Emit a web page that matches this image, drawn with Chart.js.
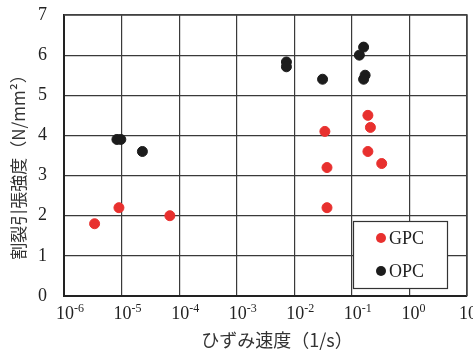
<!DOCTYPE html>
<html>
<head>
<meta charset="utf-8">
<script src="https://cdn.jsdelivr.net/npm/chart.js@4"></script>
<style>
  html, body { margin: 0; padding: 0; background: #fff; }
  #wrap { width: 473px; height: 354px; }
</style>
</head>
<body>
<div id="wrap"><canvas id="chart" width="473" height="354"></canvas></div>
<script>
// strain rate (1/s) and splitting tensile strength (N/mm2)
const gpcRate = [3.4e-6, 9e-6, 6.9e-5, 0.034, 0.037, 0.037, 0.19, 0.21, 0.19, 0.33];
const gpcStrength = [1.8, 2.2, 2.0, 4.1, 3.2, 2.2, 4.5, 4.2, 3.6, 3.3];
const opcRate = [8.3e-6, 9.7e-6, 2.3e-5, 0.0073, 0.0073, 0.031, 0.16, 0.135, 0.17, 0.16];
const opcStrength = [3.9, 3.9, 3.6, 5.83, 5.71, 5.4, 6.2, 6.0, 5.5, 5.4];
const xTicks = [1e-6, 1e-5, 1e-4, 1e-3, 1e-2, 1e-1, 1e0, 1e1];
const yTicks = [0, 1, 2, 3, 4, 5, 6, 7];
const xTitle = 'ひずみ速度（1/s）';
const yTitle = '割裂引張強度（N/mm²）';

const serif = '"Liberation Serif", "Times New Roman", serif';
const jp = '"Noto Sans CJK JP", "Noto Sans", sans-serif';
const gridColor = '#3a3a3a';

function pts(xs, ys) {
    return xs.map((x, i) => ({ x: x, y: ys[i] }));
}

// x tick labels as 10 with a superscript exponent, plus axis titles
const axisText = {
    id: 'axisText',
    afterDraw(chart) {
        const ctx = chart.ctx;
        const sx = chart.scales.x;
        const area = chart.chartArea;
        ctx.save();
        ctx.strokeStyle = '#444';
        ctx.lineWidth = 1.5;
        ctx.beginPath();
        ctx.moveTo(area.left, area.top);
        ctx.lineTo(area.right, area.top);
        ctx.lineTo(area.right, area.bottom);
        ctx.stroke();

        ctx.fillStyle = '#222';
        ctx.textBaseline = 'alphabetic';
        xTicks.forEach(v => {
            const px = sx.getPixelForValue(v);
            const exp = String(Math.round(Math.log10(v)));
            ctx.font = '18px ' + serif;
            ctx.textAlign = 'center';
            ctx.fillText('10', px + 1, 319);
            const w = ctx.measureText('10').width;
            ctx.font = '12px ' + serif;
            ctx.textAlign = 'left';
            ctx.fillText(exp, px + 1 + w / 2, 312);
        });

        ctx.fillStyle = '#333';
        ctx.font = '18px ' + jp;
        ctx.textAlign = 'center';
        ctx.textBaseline = 'middle';
        ctx.fillText(xTitle, 277, 340);

        ctx.translate(19, 163);
        ctx.rotate(-Math.PI / 2);
        ctx.font = '17px ' + jp;
        ctx.fillText(yTitle, 0, 0);
        ctx.restore();
    }
};

// legend box inside the plot area
const boxLegend = {
    id: 'boxLegend',
    afterDraw(chart) {
        const ctx = chart.ctx;
        ctx.save();
        ctx.fillStyle = '#fff';
        ctx.fillRect(353.5, 221.5, 94, 67);
        ctx.strokeStyle = '#333';
        ctx.lineWidth = 1.2;
        ctx.strokeRect(353.5, 221.5, 94, 67);
        const rows = [238, 271];
        chart.data.datasets.forEach((ds, i) => {
            ctx.fillStyle = ds.backgroundColor;
            ctx.beginPath();
            ctx.arc(381, rows[i], 5, 0, Math.PI * 2);
            ctx.fill();
            ctx.fillStyle = '#222';
            ctx.font = '18px ' + serif;
            ctx.textAlign = 'left';
            ctx.textBaseline = 'middle';
            ctx.fillText(ds.label, 389, rows[i] + 1);
        });
        ctx.restore();
    }
};

new Chart(document.getElementById('chart').getContext('2d'), {
    type: 'scatter',
    data: {
        datasets: [
            {
                label: 'GPC',
                data: pts(gpcRate, gpcStrength),
                backgroundColor: '#e8302e',
                borderColor: '#e8302e',
                pointRadius: 5,
                pointHoverRadius: 5
            },
            {
                label: 'OPC',
                data: pts(opcRate, opcStrength),
                backgroundColor: '#1c1c1c',
                borderColor: '#1c1c1c',
                pointRadius: 5,
                pointHoverRadius: 5
            }
        ]
    },
    options: {
        responsive: false,
        animation: false,
        events: [],
        layout: { padding: { top: 15, right: 6, left: 0, bottom: 0 } },
        plugins: {
            legend: { display: false },
            tooltip: { enabled: false }
        },
        scales: {
            x: {
                type: 'logarithmic',
                min: 1e-6,
                max: 10,
                afterBuildTicks: s => { s.ticks = xTicks.map(v => ({ value: v })); },
                afterFit: s => { s.height = 58; s.paddingLeft = 0; s.paddingRight = 0; },
                ticks: { display: false },
                grid: { color: gridColor, lineWidth: 1.2, drawTicks: false },
                border: { color: '#222', width: 2 }
            },
            y: {
                min: 0,
                max: 7,
                afterBuildTicks: s => { s.ticks = yTicks.map(v => ({ value: v })); },
                afterFit: s => { s.width = 64; s.paddingTop = 0; s.paddingBottom = 0; },
                ticks: {
                    font: { family: serif, size: 18 },
                    color: '#222',
                    padding: 17
                },
                grid: { color: gridColor, lineWidth: 1.2, drawTicks: false },
                border: { color: '#222', width: 2 }
            }
        }
    },
    plugins: [axisText, boxLegend]
});
</script>
</body>
</html>
